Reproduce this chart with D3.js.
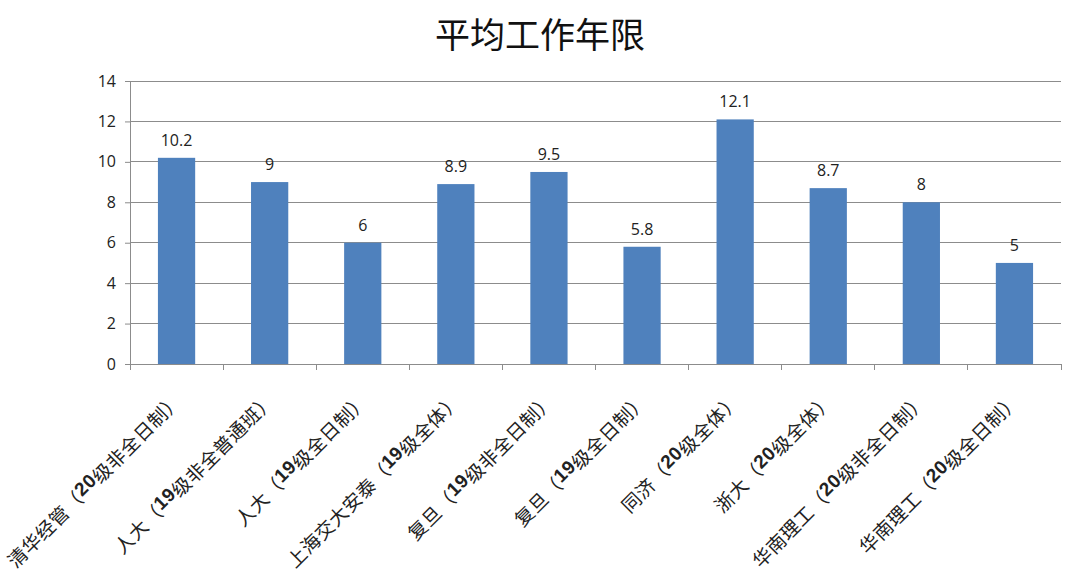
<!DOCTYPE html>
<html><head><meta charset="utf-8">
<script src="https://cdn.jsdelivr.net/npm/d3@7"></script>
<style>body{margin:0;background:#fff}svg{display:block}</style>
</head><body>
<svg id="c" width="1080" height="583"></svg>
<script>
const categories = ["清华经管（20级非全日制）","人大（19级非全普通班）","人大（19级全日制）","上海交大安泰（19级全体）","复旦（19级非全日制）","复旦（19级全日制）","同济（20级全体）","浙大（20级全体）","华南理工（20级非全日制）","华南理工（20级全日制）"];
const values = [10.2, 9, 6, 8.9, 9.5, 5.8, 12.1, 8.7, 8, 5];
const yTicks = [0,2,4,6,8,10,12,14];
const title = "平均工作年限";

const svg = d3.select("#c");
const L=130, R=1061, T=81, B=364;
const x = d3.scaleBand().domain(categories).range([L,R]).paddingInner(0.6).paddingOuter(0.3);
const y = d3.scaleLinear().domain([0,14]).range([B,T]);
const font = "'Noto Sans CJK SC','Noto Sans',sans-serif";
const numFont = "'Open Sans','Noto Sans',sans-serif";

svg.append("text").attr("x",540).attr("y",48).attr("text-anchor","middle")
  .attr("font-family",font).attr("font-size",35).attr("fill","#111").text(title);

// gridlines
svg.append("g").selectAll("line").data(yTicks.filter(d=>d>0)).join("line")
  .attr("x1",L).attr("x2",R).attr("y1",d=>y(d)).attr("y2",d=>y(d))
  .attr("stroke","#8c8c8c").attr("stroke-width",1).attr("shape-rendering","crispEdges");

// y axis
const ya = svg.append("g").attr("transform",`translate(${L},0)`)
  .call(d3.axisLeft(y).tickValues(yTicks).tickSize(5).tickPadding(9));
ya.select(".domain").attr("stroke","#8c8c8c");
ya.selectAll(".tick line").attr("stroke","#8c8c8c");
ya.selectAll("text").attr("font-family",numFont).attr("font-size",16).attr("fill","#222");

// bars
svg.append("g").selectAll("rect").data(values).join("rect")
  .attr("x",(d,i)=>x(categories[i])).attr("width",x.bandwidth())
  .attr("y",d=>y(d)).attr("height",d=>B-y(d)).attr("fill","#4f81bd");

// value labels
svg.append("g").selectAll("text").data(values).join("text")
  .attr("x",(d,i)=>x(categories[i])+x.bandwidth()/2).attr("y",d=>y(d)-12)
  .attr("text-anchor","middle").attr("font-family",numFont)
  .attr("font-size",16).attr("fill","#222").text(d=>d);

// x axis
const xa = svg.append("g").attr("transform",`translate(0,${B})`);
xa.append("line").attr("x1",L).attr("x2",R).attr("stroke","#8c8c8c").attr("shape-rendering","crispEdges");
const bounds = d3.range(categories.length+1).map(i=>L+i*(R-L)/categories.length);
xa.selectAll("line.t").data(bounds).join("line").attr("class","t")
  .attr("x1",d=>d).attr("x2",d=>d).attr("y1",0).attr("y2",6).attr("stroke","#8c8c8c").attr("shape-rendering","crispEdges");

// category labels
const lab = svg.append("g").selectAll("text").data(categories).join("text")
  .attr("transform",d=>`translate(${x(d)+x.bandwidth()/2-6},${B+25}) rotate(-45)`)
  .attr("text-anchor","end").attr("font-family",font).attr("font-size",19).attr("fill","#222")
  .attr("dominant-baseline","hanging").attr("letter-spacing",0.5);
lab.each(function(d){
  const t=d3.select(this);
  d.split(/(\d+)/).forEach(p=>{ if(!p) return;
    const s=t.append("tspan").text(p);
    if(/\d/.test(p)) s.attr("font-weight","bold").attr("font-family","'Liberation Sans',Arial,sans-serif");
  });
});
</script>
</body></html>
